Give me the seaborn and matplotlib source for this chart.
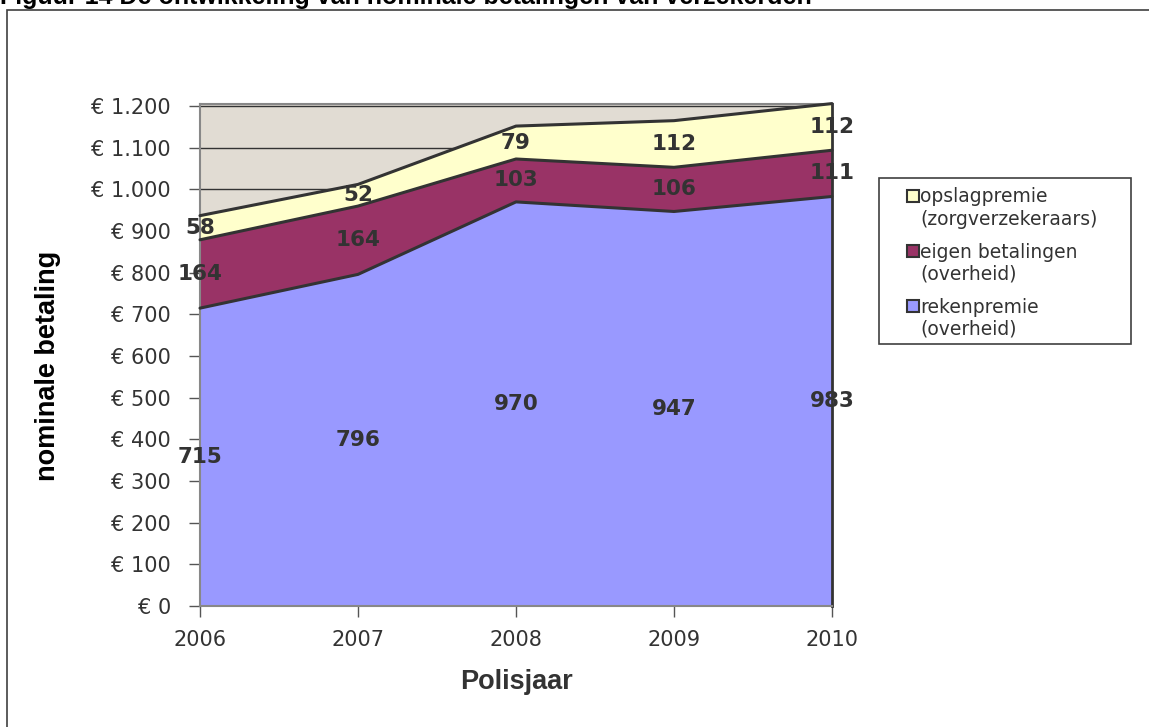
import numpy as np
import matplotlib
matplotlib.use("Agg")
import matplotlib.pyplot as plt
import matplotlib.patches as mpatches
from matplotlib import font_manager
import seaborn as sns

sns.set_theme(style="white")
plt.rcParams["font.family"] = ["DejaVu Sans"]

# ── Data ─────────────────────────────────────────────────────────────────────
years = [2006, 2007, 2008, 2009, 2010]
rekenpremie = [715, 796, 970, 947, 983]
eigen_betalingen = [164, 164, 103, 106, 111]
opslagpremie = [58, 52, 79, 112, 112]

series_labels = [["rekenpremie", "(overheid)"],
                 ["eigen betalingen", "(overheid)"],
                 ["opslagpremie", "(zorgverzekeraars)"]]
colors = ["#9999FF", "#993366", "#FFFFCC"]
ytick_values = list(range(0, 1201, 100))

W, H = 1149, 727


def px(x, y):
    return x / W, 1 - y / H


def euro(v):
    return "€ " + f"{v:,}".replace(",", ".")


# Arial-like bold (avoid the Narrow variant)
arial_bold = None
for f in font_manager.findSystemFonts():
    if f.endswith("LiberationSans-Bold.ttf"):
        arial_bold = f
        break


def bold_font(size):
    if arial_bold:
        return font_manager.FontProperties(fname=arial_bold, size=size)
    return font_manager.FontProperties(family="DejaVu Sans", weight="bold", size=size)


# ── Figure ───────────────────────────────────────────────────────────────────
fig = plt.figure(figsize=(W / 100, H / 100), dpi=100)
fig.patch.set_facecolor("white")

# outer frame (runs off right / bottom) and truncated title
fig.patches.append(mpatches.Rectangle((7 / W, -0.05), 1.2, 1 - 10 / H + 0.05,
                                      transform=fig.transFigure, fill=False,
                                      edgecolor="#404040", linewidth=1.2))
fig.text(0.0, 1 - 4 / H, "Figuur 14 De ontwikkeling van nominale betalingen van verzekerden",
         fontproperties=bold_font(18), va="baseline", ha="left", color="black")

ax = fig.add_axes([200 / W, 1 - 606 / H, 632 / W, (606 - 104) / H])
ax.set_facecolor("#E1DCD3")

layers = np.vstack([rekenpremie, eigen_betalingen, opslagpremie])
cum = np.cumsum(layers, axis=0)
base = np.zeros(len(years))
for i in range(3):
    ax.fill_between(years, base, cum[i], color=colors[i], linewidth=0, zorder=2,
                    clip_on=False)
    ax.plot(years, cum[i], color="#333333", linewidth=2.2, zorder=3, clip_on=False)
    for x, b, v in zip(years, base, layers[i]):
        ax.text(x, b + v / 2, str(v), ha="center", va="center", fontsize=15.5,
                fontweight="bold", color="#333333", zorder=4)
    base = cum[i]

ax.set_xlim(years[0], years[-1])
ax.set_ylim(0, 1205)
ax.set_yticks(ytick_values)
ax.set_yticklabels([euro(v) for v in ytick_values], fontsize=15, color="#333333")
ax.set_xticks(years)
ax.set_xticklabels([str(y) for y in years], fontsize=15, color="#333333")
ax.tick_params(axis="both", direction="out", length=8, width=1, color="#555555",
               left=True, bottom=True)
ax.tick_params(axis="x", pad=9)
ax.tick_params(axis="y", pad=13)
ax.yaxis.grid(True, color="#333333", linewidth=1)
ax.set_axisbelow(True)
for s in ["left", "top", "bottom"]:
    ax.spines[s].set_color("#888888")
    ax.spines[s].set_linewidth(1.5)
ax.spines["right"].set_color("#333333")
ax.spines["right"].set_linewidth(2)

ax.set_xlabel("Polisjaar", fontproperties=bold_font(19.5), color="#333333")
ax.xaxis.set_label_coords(0.5, -(682 - 606) / (606 - 104), transform=ax.transAxes)
ax.xaxis.label.set_va("center")
ax.set_ylabel("nominale betaling", fontproperties=bold_font(19.5), color="black")
ax.yaxis.set_label_coords(-(200 - 48) / 632, (606 - 366) / (606 - 104), transform=ax.transAxes)
ax.yaxis.label.set_va("center")

# ── Legend box (first line of each label beside its swatch) ──────────────────
fig.patches.append(mpatches.Rectangle(px(879, 344), (1131 - 879) / W, (344 - 178) / H,
                                      transform=fig.transFigure, facecolor="white",
                                      edgecolor="#404040", linewidth=1.2))
for k, i in enumerate([2, 1, 0]):
    y1 = 197 + k * 55
    fig.patches.append(mpatches.Rectangle(px(907, y1 + 5), 12 / W, 12 / H,
                                          transform=fig.transFigure, facecolor=colors[i],
                                          edgecolor="#333333", linewidth=1.5))
    fig.text(*px(920, y1), series_labels[i][0], fontsize=13.5, color="#333333",
             va="center", ha="left")
    fig.text(*px(920, y1 + 22), series_labels[i][1], fontsize=13.5, color="#333333",
             va="center", ha="left")

fig.savefig("out.png", dpi=100, facecolor="white")
